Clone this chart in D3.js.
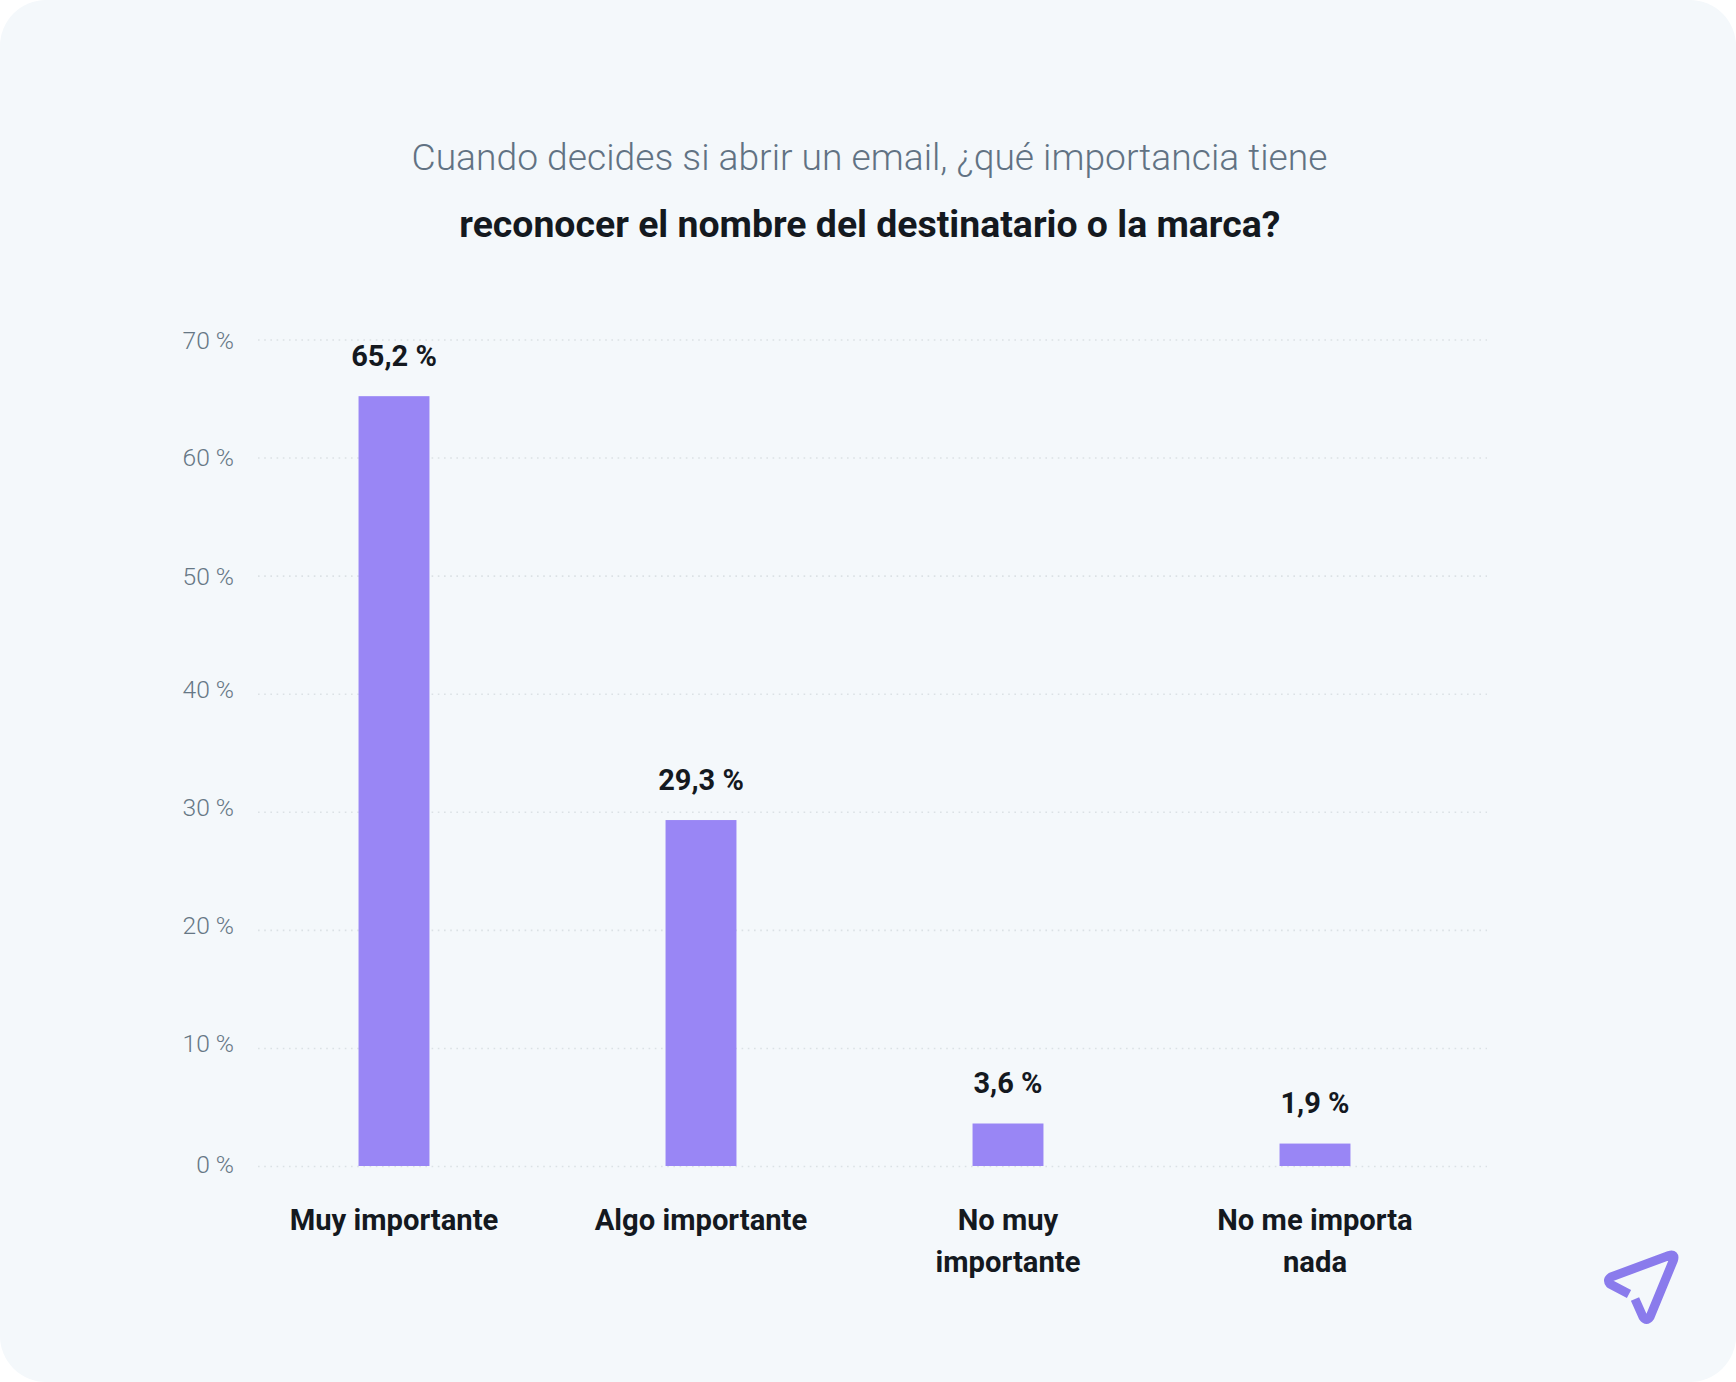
<!DOCTYPE html>
<html><head><meta charset="utf-8">
<script src="https://cdn.jsdelivr.net/npm/d3@7"></script>
<style>html,body{margin:0;padding:0;background:#fff}svg{display:block}text{font-family:Roboto,sans-serif}</style>
</head><body><div id="c"></div>
<script>
const categories=[["Muy importante"],["Algo importante"],["No muy","importante"],["No me importa","nada"]];
const values=[65.2,29.3,3.6,1.9];
const valueLabels=["65,2 %","29,3 %","3,6 %","1,9 %"];
const yTicks=[0,10,20,30,40,50,60,70];
const titleLines=["Cuando decides si abrir un email, ¿qué importancia tiene","reconocer el nombre del destinatario o la marca?"];

const W=1736,H=1382;
const svg=d3.select("#c").append("svg").attr("width",W).attr("height",H);
svg.append("rect").attr("width",W).attr("height",H).attr("rx",46).attr("fill","#f4f8fb");

const x=d3.scaleBand().domain(categories.map((d,i)=>i)).range([240.5,1468.5]).paddingInner(.769).paddingOuter(.3845);
const y=d3.scaleLinear().domain([0,70]).range([1166,339.5]);

svg.append("text").attr("x",869.5).attr("y",170).attr("text-anchor","middle").attr("font-size",37.2).attr("font-weight",300).attr("fill","#617283").text(titleLines[0]);
svg.append("text").attr("x",869.8).attr("y",237).attr("text-anchor","middle").attr("font-size",37.4).attr("font-weight",700).attr("fill","#14191f").text(titleLines[1]);

const labelShift=t=>({70:1.5,60:-0.3,50:0.5,40:-3.7,30:-4,20:-4,10:-4,0:-1.8})[t];
const yAxis=svg.append("g").attr("transform","translate(258,0)").call(d3.axisLeft(y).tickValues(yTicks).tickSize(0).tickPadding(24).tickFormat(d=>d+" %"));
yAxis.select(".domain").remove();
yAxis.selectAll("text").attr("font-size",24.6).attr("font-weight",300).attr("fill","#667785").attr("font-family","Roboto")
  .attr("transform",d=>`translate(0,${labelShift(d)})`);
yAxis.selectAll("line").attr("x1",0).attr("x2",1229).attr("stroke","#dbe1e5").attr("stroke-width",1.6).attr("stroke-dasharray","1.6 4.6");

svg.selectAll("rect.bar").data(values).join("rect").attr("class","bar")
 .attr("x",(d,i)=>x(i)).attr("width",x.bandwidth()).attr("y",d=>y(d)).attr("height",d=>y(0)-y(d)).attr("fill","#9986f5");

svg.selectAll("text.val").data(values).join("text").attr("class","val")
 .attr("x",(d,i)=>x(i)+x.bandwidth()/2).attr("y",d=>y(d)-30.5).attr("text-anchor","middle")
 .attr("font-size",29).attr("font-weight",700).attr("fill","#14191f").text((d,i)=>valueLabels[i]);

categories.forEach((lines,i)=>{
 lines.forEach((l,j)=>{
  svg.append("text").attr("x",x(i)+x.bandwidth()/2).attr("y",1230+j*41.5).attr("text-anchor","middle")
   .attr("font-size",29.2).attr("font-weight",700).attr("fill","#14191f").text(l);
 });
});

svg.append("path").attr("d","M1629 1294 L1610 1284 Q1606.5 1280 1611 1277 L1669 1255.5 Q1675.5 1253.5 1673.5 1260 L1650 1317 Q1646.5 1322 1643 1317 L1635 1299")
 .attr("fill","none").attr("stroke","#8a7bec").attr("stroke-width",9).attr("stroke-linejoin","round");
</script></body></html>
